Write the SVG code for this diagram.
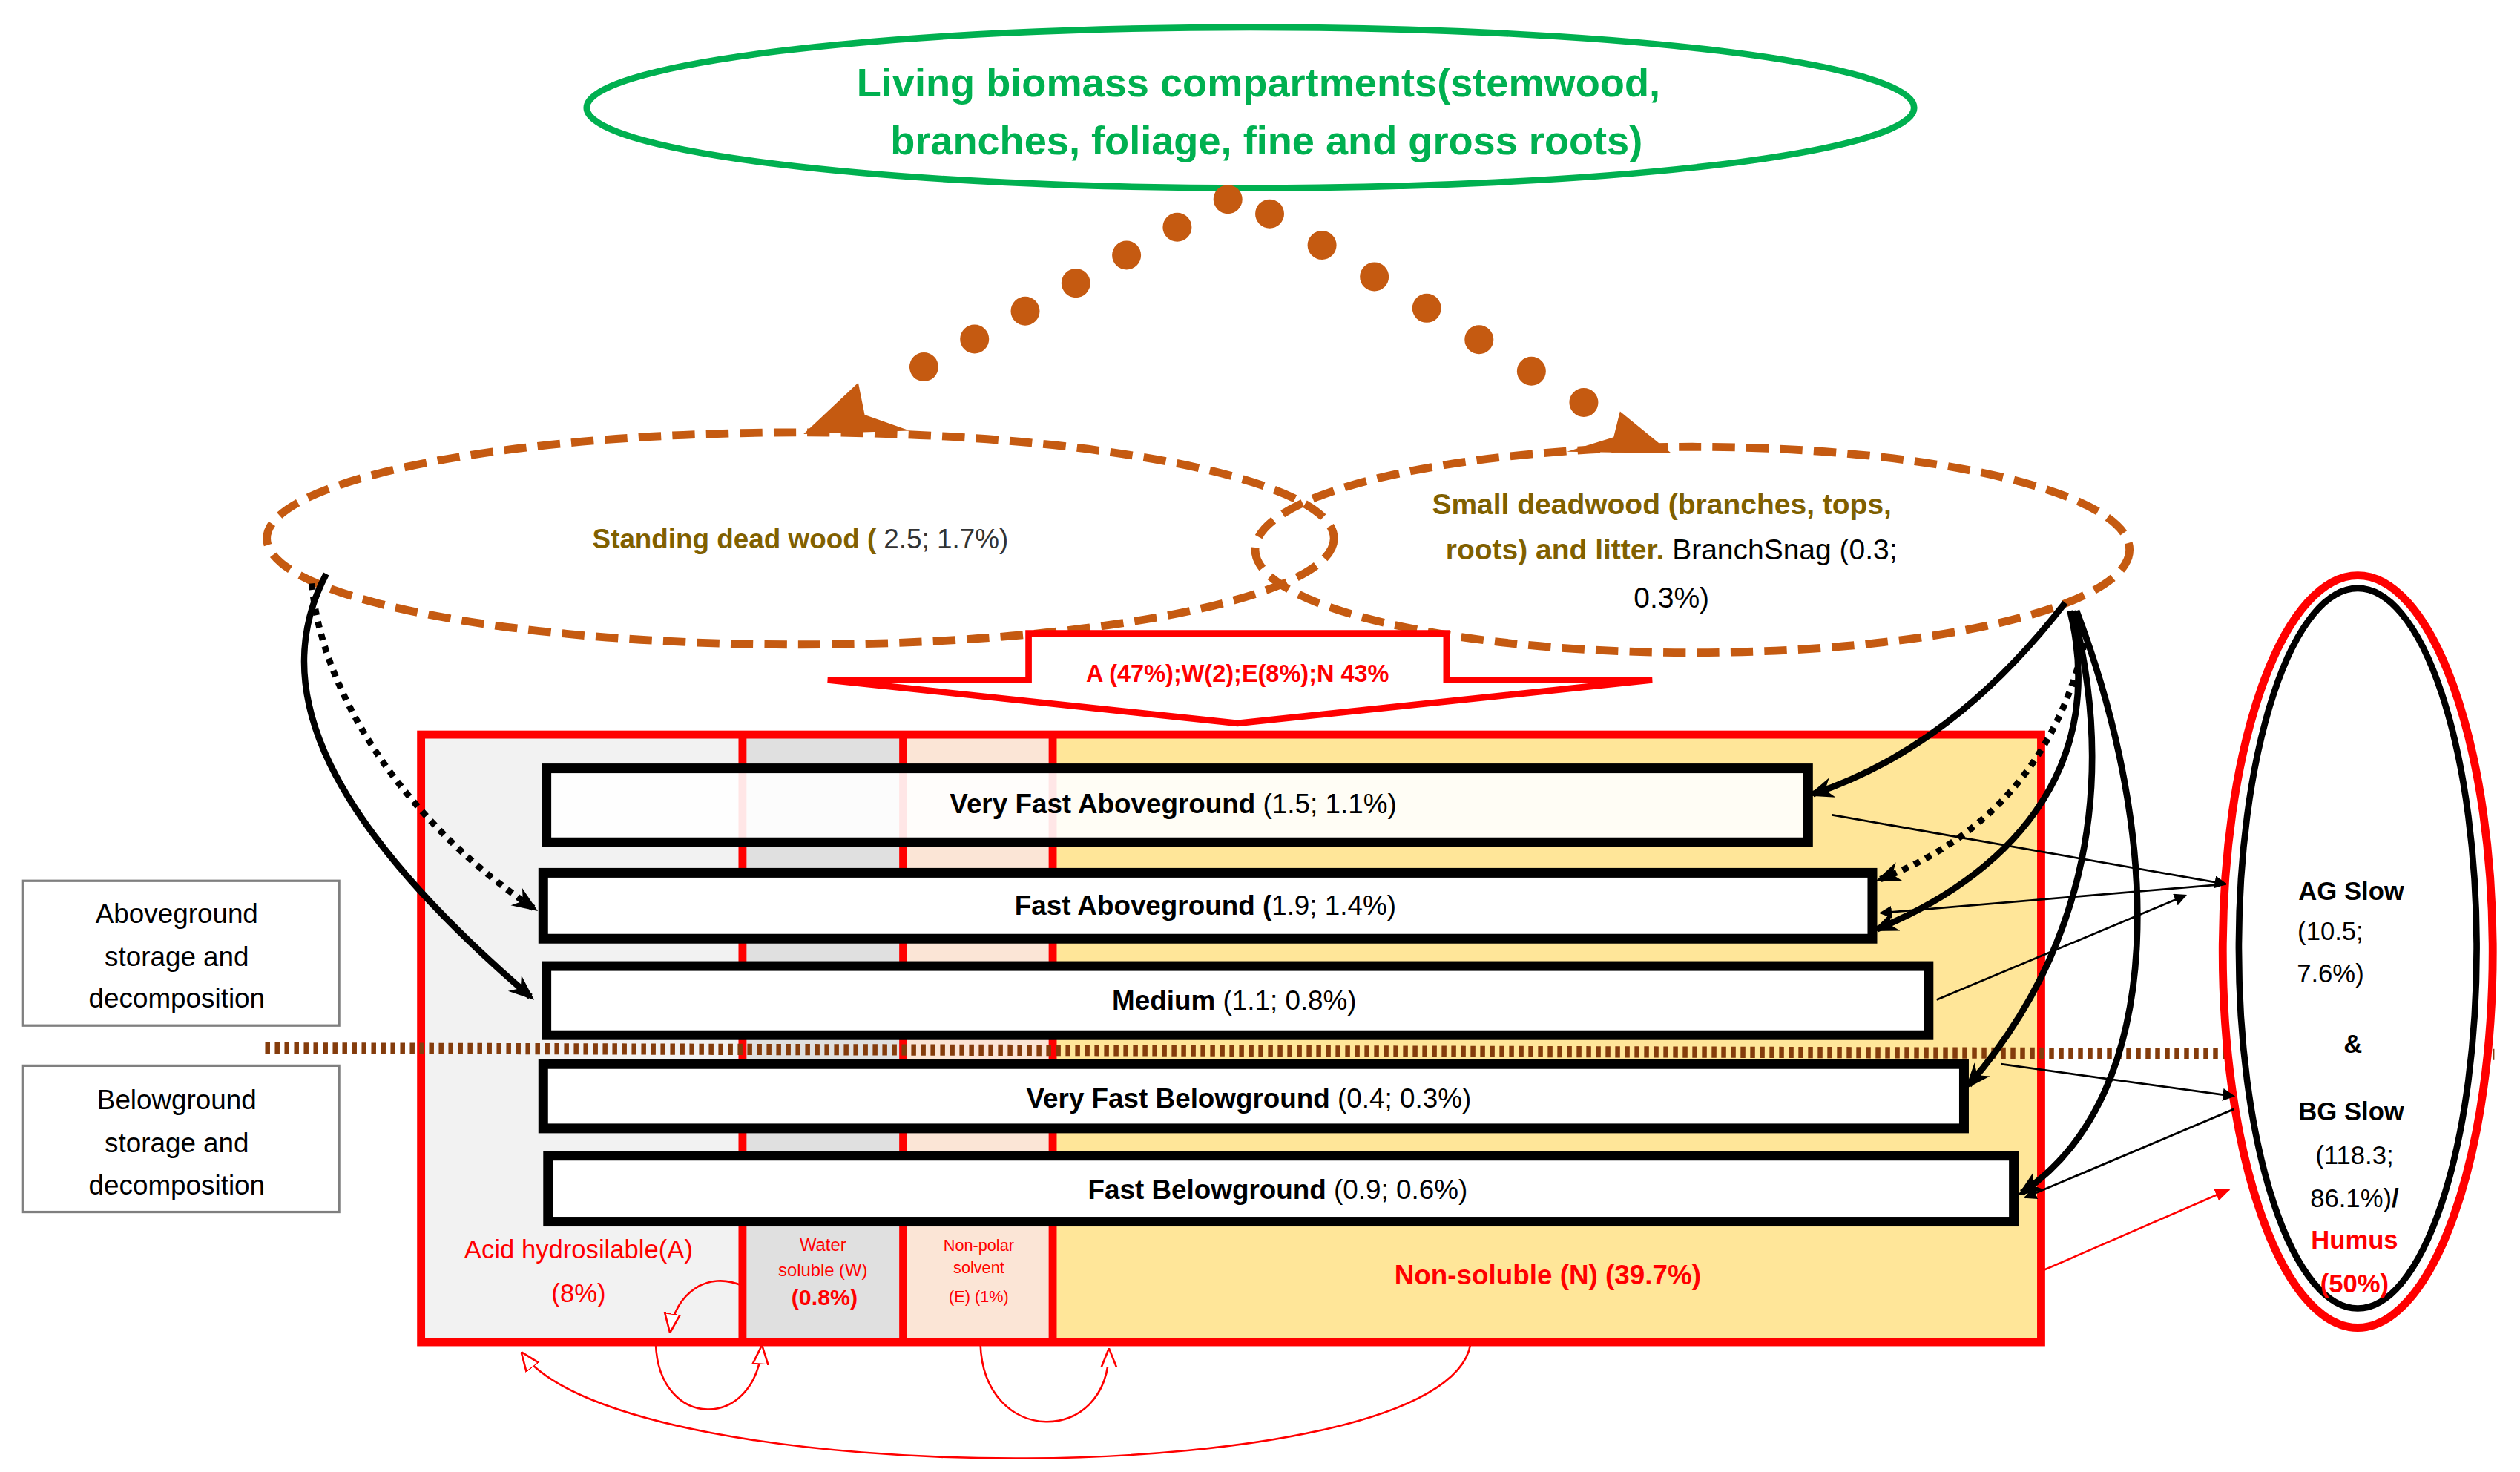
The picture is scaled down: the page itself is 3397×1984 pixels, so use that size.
<svg xmlns="http://www.w3.org/2000/svg" width="3397" height="1984" viewBox="0 0 3397 1984">
<style>
.t{font-family:"Liberation Sans",Arial,sans-serif}
.b{font-weight:bold}
.bar{fill:#fff;stroke:#000;stroke-width:6}
.lbl{fill:#fff;stroke:#7f7f7f;stroke-width:1.5}
.red{fill:none;stroke:#f00;stroke-width:1.2}
.blk{fill:none;stroke:#000}
</style>
<defs>
<marker id="ab" viewBox="0 0 10 10" refX="9" refY="5" markerWidth="6" markerHeight="6" orient="auto"><path d="M0,0L10,5L0,10z" fill="#000"/></marker>
<marker id="as" viewBox="0 0 10 10" refX="8" refY="5" markerUnits="userSpaceOnUse" markerWidth="16" markerHeight="16" orient="auto"><path d="M0,1L10,5L0,9L3,5z" fill="#000"/></marker>
<marker id="ar" viewBox="0 0 10 10" refX="9" refY="5" markerUnits="userSpaceOnUse" markerWidth="12" markerHeight="12" orient="auto"><path d="M0,1L10,5L0,9z" fill="#fff" stroke="#f00" stroke-width="1"/></marker>
<marker id="arf" viewBox="0 0 10 10" refX="9" refY="5" markerWidth="8" markerHeight="8" orient="auto"><path d="M0,1L10,5L0,9z" fill="#f00"/></marker>
</defs>
<g transform="scale(2.1665)">
<g id="compartments">
<rect x="262" y="457" width="200" height="378" fill="#f2f2f2"/>
<rect x="462" y="457" width="100" height="378" fill="#e0e0e0"/>
<rect x="562" y="457" width="93" height="378" fill="#fbe5d6"/>
<rect x="655" y="457" width="615" height="378" fill="#ffe699"/>
<rect x="262" y="457" width="1008" height="378" fill="none" stroke="#f00" stroke-width="5"/>
<line x1="462" y1="457" x2="462" y2="835" stroke="#f00" stroke-width="5"/>
<line x1="562" y1="457" x2="562" y2="835" stroke="#f00" stroke-width="5"/>
<line x1="655" y1="457" x2="655" y2="835" stroke="#f00" stroke-width="5"/>
<text class="t" fill="#f00" font-size="16" text-anchor="middle"><tspan x="360" y="783">Acid hydrosilable(A)</tspan><tspan x="360" y="810">(8%)</tspan></text>
<text class="t" fill="#f00" font-size="11" text-anchor="middle"><tspan x="512" y="778">Water</tspan><tspan x="512" y="794">soluble (W)</tspan></text>
<text class="t b" fill="#f00" font-size="14" text-anchor="middle" x="513" y="812">(0.8%)</text>
<text class="t" fill="#f00" font-size="10" text-anchor="middle"><tspan x="609" y="778">Non-polar</tspan><tspan x="609" y="792">solvent</tspan><tspan x="609" y="810">(E) (1%)</tspan></text>
<text class="t b" fill="#f00" font-size="17" text-anchor="middle" x="963" y="799">Non-soluble (N) (39.7%)</text>
</g>
<line x1="165" y1="652" x2="1552" y2="656" stroke="#843c0c" stroke-width="7" stroke-dasharray="3,3"/>
<g id="living">
<ellipse cx="778" cy="67" rx="413" ry="50" fill="#fff" stroke="#00b050" stroke-width="4"/>
<text class="t b" fill="#00b050" font-size="25" text-anchor="middle"><tspan x="783" y="60">Living biomass compartments(stemwood,</tspan><tspan x="788" y="96">branches, foliage, fine and gross roots)</tspan></text>
</g>
<g id="standing">
<ellipse cx="498" cy="335" rx="332" ry="66" fill="none" stroke="#c55a11" stroke-width="5" stroke-dasharray="14,7"/>
<text class="t" font-size="17" text-anchor="middle" x="498" y="341"><tspan class="b" fill="#806000">Standing dead wood (</tspan><tspan fill="#333"> 2.5; 1.7%)</tspan></text>
</g>
<g id="small">
<ellipse cx="1053" cy="342" rx="272" ry="64" fill="none" stroke="#c55a11" stroke-width="5" stroke-dasharray="14,7"/>
<text class="t" font-size="18" text-anchor="middle"><tspan class="b" fill="#806000" x="1034" y="320">Small deadwood (branches, tops,</tspan><tspan x="1040" y="348"><tspan class="b" fill="#806000">roots) and litter.</tspan><tspan fill="#000"> BranchSnag (0.3;</tspan></tspan><tspan fill="#000" x="1040" y="378">0.3%)</tspan></text>
</g>
<g id="bigarrow">
<path d="M640,394H900V423H1028L770,450L515,423H640Z" fill="#fff" stroke="#f00" stroke-width="4"/>
<text class="t b" fill="#f00" font-size="15" text-anchor="middle" x="770" y="424">A (47%);W(2);E(8%);N 43%</text>
</g>
<g id="vfa"><rect class="bar" x="340" y="478" width="785" height="46" fill-opacity="0.9"/>
<text class="t" font-size="17" text-anchor="middle" x="730" y="506"><tspan class="b">Very Fast Aboveground</tspan> (1.5; 1.1%)</text></g>
<g id="fag"><rect class="bar" x="338" y="543" width="827" height="41"/>
<text class="t" font-size="17" text-anchor="middle" x="750" y="569"><tspan class="b">Fast Aboveground (</tspan>1.9; 1.4%)</text></g>
<g id="med"><rect class="bar" x="340" y="601" width="860" height="43"/>
<text class="t" font-size="17" text-anchor="middle" x="768" y="628"><tspan class="b">Medium</tspan> (1.1; 0.8%)</text></g>
<g id="vfb"><rect class="bar" x="338" y="662" width="884" height="40"/>
<text class="t" font-size="17" text-anchor="middle" x="777" y="689"><tspan class="b">Very Fast Belowground</tspan> (0.4; 0.3%)</text></g>
<g id="fb"><rect class="bar" x="341" y="719" width="912" height="41"/>
<text class="t" font-size="17" text-anchor="middle" x="795" y="746"><tspan class="b">Fast Belowground</tspan> (0.9; 0.6%)</text></g>
<g id="ag-label"><rect class="lbl" x="14" y="548" width="197" height="90"/>
<text class="t" font-size="17" text-anchor="middle"><tspan x="110" y="574">Aboveground</tspan><tspan x="110" y="601">storage and</tspan><tspan x="110" y="627">decomposition</tspan></text></g>
<g id="bg-label"><rect class="lbl" x="14" y="663" width="197" height="91"/>
<text class="t" font-size="17" text-anchor="middle"><tspan x="110" y="690">Belowground</tspan><tspan x="110" y="717">storage and</tspan><tspan x="110" y="743">decomposition</tspan></text></g>
<g id="slow">
<ellipse cx="1467" cy="592" rx="84" ry="234" fill="#fff" stroke="#f00" stroke-width="5"/>
<ellipse cx="1467" cy="590" rx="74" ry="224" fill="none" stroke="#000" stroke-width="4"/>
<text class="t" font-size="16" text-anchor="middle" fill="#000"><tspan class="b" x="1463" y="560">AG Slow</tspan><tspan x="1450" y="585">(10.5;</tspan><tspan x="1450" y="611">7.6%)</tspan><tspan class="b" x="1464" y="655">&amp;</tspan><tspan class="b" x="1463" y="697">BG Slow</tspan><tspan x="1465" y="724">(118.3;</tspan><tspan x="1465" y="751">86.1%)<tspan class="b">/</tspan></tspan><tspan class="b" fill="#f00" x="1465" y="777">Humus</tspan><tspan class="b" fill="#f00" x="1465" y="804">(50%)</tspan></text>
</g>
<g id="connectors">
<path d="M764,124L550,242" stroke="#c55a11" stroke-width="18" stroke-linecap="round" stroke-dasharray="0,36" fill="none"/>
<path d="M790,133L998,258" stroke="#c55a11" stroke-width="18" stroke-linecap="round" stroke-dasharray="0,38" fill="none"/>
<path d="M534,238L500,270L566,268L538,258Z" fill="#c55a11"/>
<path d="M1008,256L1040,282L975,281L1004,272Z" fill="#c55a11"/>
<path d="M203,357C170,420 190,500 330,620" class="blk" stroke-width="4" marker-end="url(#as)"/>
<path d="M194,363C200,430 250,510 332,565" class="blk" stroke-width="4" stroke-dasharray="4,4" marker-end="url(#as)"/>
<path d="M1285,375C1250,420 1200,470 1128,494" class="blk" stroke-width="4" marker-end="url(#as)"/>
<path d="M1297,400C1280,470 1240,520 1170,547" class="blk" stroke-width="4" stroke-dasharray="4,4" marker-end="url(#as)"/>
<path d="M1288,380C1310,470 1260,540 1168,578" class="blk" stroke-width="4" marker-end="url(#as)"/>
<path d="M1290,380C1320,500 1290,600 1225,675" class="blk" stroke-width="4" marker-end="url(#as)"/>
<path d="M1292,380C1345,520 1350,680 1258,742" class="blk" stroke-width="4" marker-end="url(#as)"/>
<line x1="1140" y1="507" x2="1385" y2="550" class="blk" stroke-width="1.3" marker-end="url(#ab)"/>
<line x1="1385" y1="550" x2="1170" y2="568" class="blk" stroke-width="1.3" marker-end="url(#ab)"/>
<line x1="1205" y1="622" x2="1360" y2="557" class="blk" stroke-width="1.3" marker-end="url(#ab)"/>
<line x1="1245" y1="662" x2="1390" y2="682" class="blk" stroke-width="1.3" marker-end="url(#ab)"/>
<line x1="1390" y1="690" x2="1260" y2="745" class="blk" stroke-width="1.3" marker-end="url(#ab)"/>
<line x1="1272" y1="790" x2="1387" y2="740" stroke="#f00" stroke-width="1.2" marker-end="url(#arf)"/>
<path d="M462,800C440,790 420,805 417,828" class="red" marker-end="url(#ar)"/>
<path d="M408,836C410,890 470,890 474,838" class="red" marker-end="url(#ar)"/>
<path d="M610,836C612,900 690,900 690,840" class="red" marker-end="url(#ar)"/>
<path d="M915,836C900,930 390,930 325,842" class="red" marker-end="url(#ar)"/>
</g>
</g>
</svg>
